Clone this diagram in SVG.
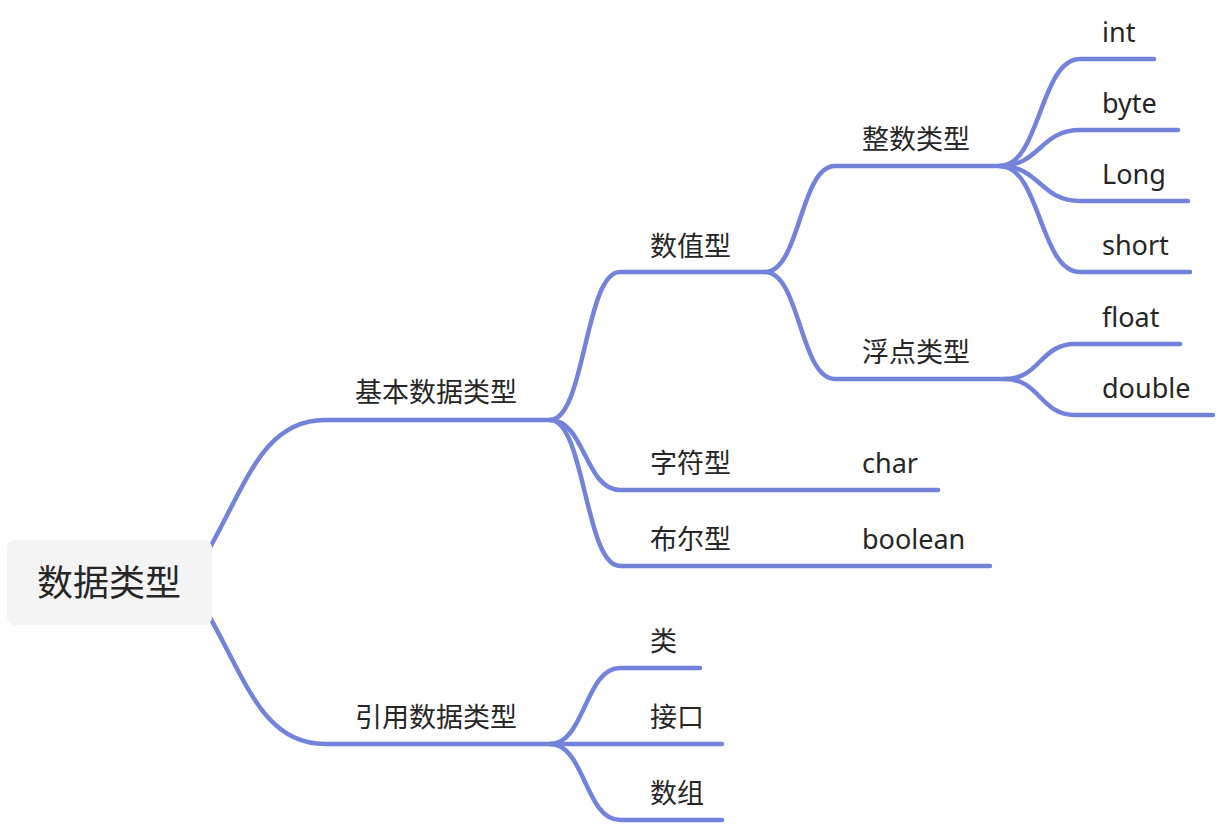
<svg xmlns="http://www.w3.org/2000/svg" width="1218" height="824" viewBox="0 0 1218 824">
<style>
.e{fill:none;stroke:#7383db;stroke-width:4.5;stroke-linecap:round}
.t{font-family:"Noto Sans","Noto Sans CJK SC",sans-serif;font-size:27px;fill:#262626}
.r{font-family:"Noto Sans","Noto Sans CJK SC",sans-serif;font-size:36px;fill:#262626}
</style>
<rect width="1218" height="824" fill="#ffffff"/>
<g id="connectors">
<path class="e" d="M200 565 C245 490 260 420 325 420 L550 420"/>
<path class="e" d="M200 600 C245 675 260 744 325 744 L550 744"/>
<path class="e" d="M550 420 C585 420 585 272 620 272 L765 272"/>
<path class="e" d="M550 420 C585 420 585 490 620 490 L938 490"/>
<path class="e" d="M550 420 C585 420 585 566 620 566 L990 566"/>
<path class="e" d="M765 272 C800 272 800 166 835 166 L1000 166"/>
<path class="e" d="M765 272 C800 272 800 379 835 379 L1005 379"/>
<path class="e" d="M1000 166 C1040 166 1040 59 1080 59 L1154 59"/>
<path class="e" d="M1000 166 C1040 166 1040 130 1080 130 L1178 130"/>
<path class="e" d="M1000 166 C1040 166 1040 201 1080 201 L1188 201"/>
<path class="e" d="M1000 166 C1040 166 1040 272 1080 272 L1190 272"/>
<path class="e" d="M1005 379 C1040 379 1040 344 1075 344 L1180 344"/>
<path class="e" d="M1005 379 C1040 379 1040 415 1075 415 L1213 415"/>
<path class="e" d="M550 744 C585 744 585 668 620 668 L700 668"/>
<path class="e" d="M550 744 L722 744"/>
<path class="e" d="M550 744 C585 744 585 820 620 820 L722 820"/>
</g>
<g id="root">
<rect x="7" y="540" width="205" height="85" rx="8" fill="#f4f4f4"/>
<text class="r" x="109" y="596" text-anchor="middle">数据类型</text>
</g>
<g id="n-jiben"><text class="t" x="355" y="402">基本数据类型</text></g>
<g id="n-yinyong"><text class="t" x="355" y="727">引用数据类型</text></g>
<g id="n-shuzhi"><text class="t" x="650" y="256">数值型</text></g>
<g id="n-zifu"><text class="t" x="650" y="473">字符型</text></g>
<g id="n-buer"><text class="t" x="650" y="549">布尔型</text></g>
<g id="n-zhengshu"><text class="t" x="862" y="149">整数类型</text></g>
<g id="n-fudian"><text class="t" x="862" y="362">浮点类型</text></g>
<g id="n-char"><text class="t" x="862" y="473">char</text></g>
<g id="n-boolean"><text class="t" x="862" y="549">boolean</text></g>
<g id="n-int"><text class="t" x="1102" y="42">int</text></g>
<g id="n-byte"><text class="t" x="1102" y="113">byte</text></g>
<g id="n-long"><text class="t" x="1102" y="184">Long</text></g>
<g id="n-short"><text class="t" x="1102" y="255">short</text></g>
<g id="n-float"><text class="t" x="1102" y="327">float</text></g>
<g id="n-double"><text class="t" x="1102" y="398">double</text></g>
<g id="n-lei"><text class="t" x="650" y="651">类</text></g>
<g id="n-jiekou"><text class="t" x="650" y="727">接口</text></g>
<g id="n-shuzu"><text class="t" x="650" y="803">数组</text></g>
</svg>
